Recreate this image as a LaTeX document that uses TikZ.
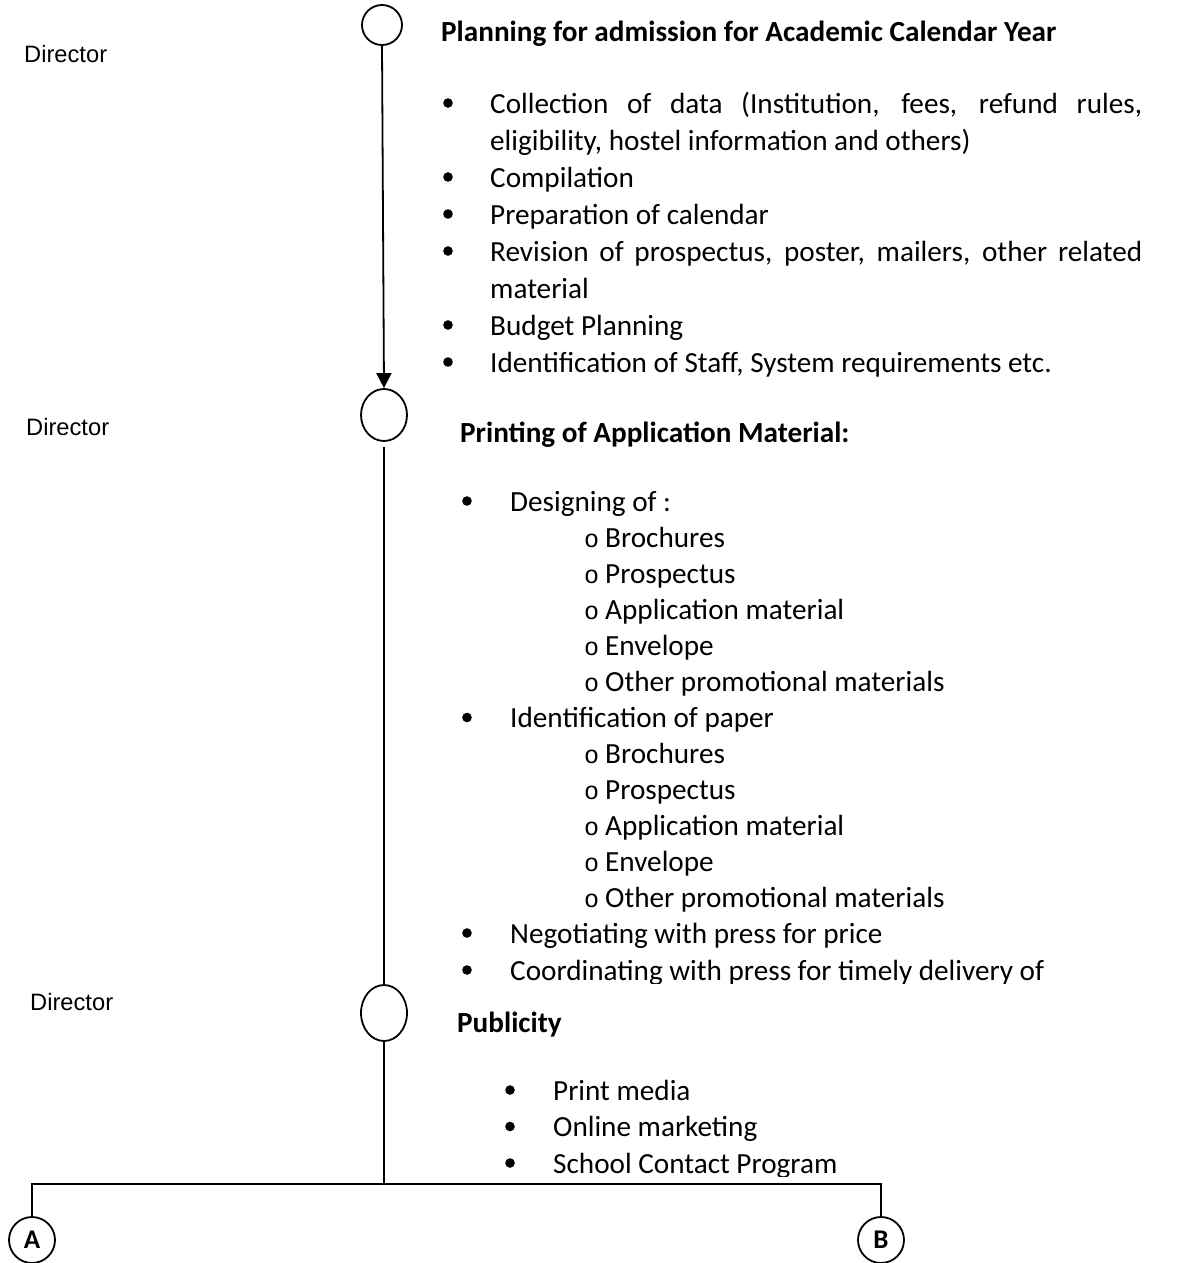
\documentclass[tikz,border=0pt]{standalone}
\usepackage{fontspec}
\setmainfont{Carlito}
\newfontfamily\arialf{Liberation Sans}
\newfontfamily\courf{Liberation Mono}
\usetikzlibrary{shapes.geometric,arrows.meta}
\begin{document}
\begin{tikzpicture}[x=1pt,y=-1pt,
  txt/.style={anchor=base west, inner sep=0pt, font=\fontsize{29.2}{36}\selectfont},
  hd/.style={anchor=base west, inner sep=0pt, font=\bfseries\fontsize{29.2}{36}\selectfont},
  dir/.style={anchor=base west, inner sep=0pt, font=\arialf\fontsize{23.7}{28}\selectfont},
  sub/.style={anchor=base west, inner sep=0pt, font=\courf\fontsize{25}{30}\selectfont},
  stepcirc/.style={draw, ellipse, line width=1.8pt, inner sep=0pt},
  letcirc/.style={draw, circle, line width=1.8pt, inner sep=0pt, minimum size=46pt, font=\bfseries\fontsize{27}{32}\selectfont},
  conn/.style={line width=1.8pt},
  bulletdot/.style={fill=black}
]
\useasboundingbox (0,0) rectangle (1179,1263);
\fill[white] (0,0) rectangle (1179,1263);

% circles
\node[stepcirc, minimum width=40pt, minimum height=40pt] (c1) at (382,25) {};
\node[stepcirc, minimum width=46pt, minimum height=52pt] (c2) at (384,415) {};
\node[stepcirc, minimum width=46pt, minimum height=56pt] (c3) at (384,1013) {};
\node[letcirc] (A) at (32,1240) {A};
\node[letcirc] (B) at (881,1240) {B};
\coordinate (J) at (384,1184);

% connectors
\draw[conn, -{Triangle[width=15pt,length=15pt]}] (c1.south) -- (c2.north);
\draw[conn] ([yshift=-5pt]c2.south) -- (c3.north);
\draw[conn] (c3.south) -- (J);
\draw[conn] (J) -- (A.north |- J) -- (A.north);
\draw[conn] (J) -- (B.north |- J) -- (B.north);

% Director labels
\node[dir] (d1) at (24,63) {Director};
\node[dir] (d2) at (26,435) {Director};
\node[dir] (d3) at (30,1010) {Director};

% Block 1
\node[hd] (h1) at (441,42) {Planning for admission for Academic Calendar Year};
\foreach \y in {113,187,224,261,335,372} \fill[bulletdot] (448,\y-10) circle (4.8);
\node[txt] (t11) at (490,113) {\makebox[652pt][s]{Collection of data (Institution, fees, refund rules,}};
\node[txt] (t12) at (490,150) {eligibility, hostel information and others)};
\node[txt] (t13) at (490,187) {Compilation};
\node[txt] (t14) at (490,224) {Preparation of calendar};
\node[txt] (t15) at (490,261) {\makebox[652pt][s]{Revision of prospectus, poster, mailers, other related}};
\node[txt] (t16) at (490,298) {material};
\node[txt] (t17) at (490,335) {Budget Planning};
\node[txt] (t18) at (490,372) {Identification of Staff, System requirements etc.};

% Block 2
\node[hd] (h2) at (460,442) {Printing of Application Material:};
\foreach \y in {511,727.5,943,980} \fill[bulletdot] (467,\y-10) circle (4.8);
\node[txt] (t21) at (510,511) {Designing of :};
\node[sub] (o1) at (584,547.1) {o};
\node[txt] (t22) at (605,547.1) {Brochures};
\node[sub] (o2) at (584,583.2) {o};
\node[txt] (t23) at (605,583.2) {Prospectus};
\node[sub] (o3) at (584,619.2) {o};
\node[txt] (t24) at (605,619.2) {Application material};
\node[sub] (o4) at (584,655.3) {o};
\node[txt] (t25) at (605,655.3) {Envelope};
\node[sub] (o5) at (584,691.4) {o};
\node[txt] (t26) at (605,691.4) {Other promotional materials};
\node[txt] (t27) at (510,727.5) {Identification of paper};
\node[sub] (o6) at (584,763.6) {o};
\node[txt] (t28) at (605,763.6) {Brochures};
\node[sub] (o7) at (584,799.6) {o};
\node[txt] (t29) at (605,799.6) {Prospectus};
\node[sub] (o8) at (584,835.7) {o};
\node[txt] (t210) at (605,835.7) {Application material};
\node[sub] (o9) at (584,871.8) {o};
\node[txt] (t211) at (605,871.8) {Envelope};
\node[sub] (o10) at (584,907.9) {o};
\node[txt] (t212) at (605,907.9) {Other promotional materials};
\node[txt] (t213) at (510,943) {Negotiating with press for price};
\begin{scope}
\clip (400,900) rectangle (1179,983.5);
\node[txt] (t214) at (510,980) {Coordinating with press for timely delivery of};
\end{scope}

% Block 3
\node[hd] (h3) at (457,1032) {Publicity};
\foreach \y in {1100,1136.5,1173} \fill[bulletdot] (510,\y-10) circle (4.8);
\node[txt] (t31) at (553,1100) {Print media};
\node[txt] (t32) at (553,1136.5) {Online marketing};
\begin{scope}
\clip (400,1100) rectangle (1179,1176.5);
\node[txt] (t33) at (553,1173) {School Contact Program};
\end{scope}
\end{tikzpicture}
\end{document}
